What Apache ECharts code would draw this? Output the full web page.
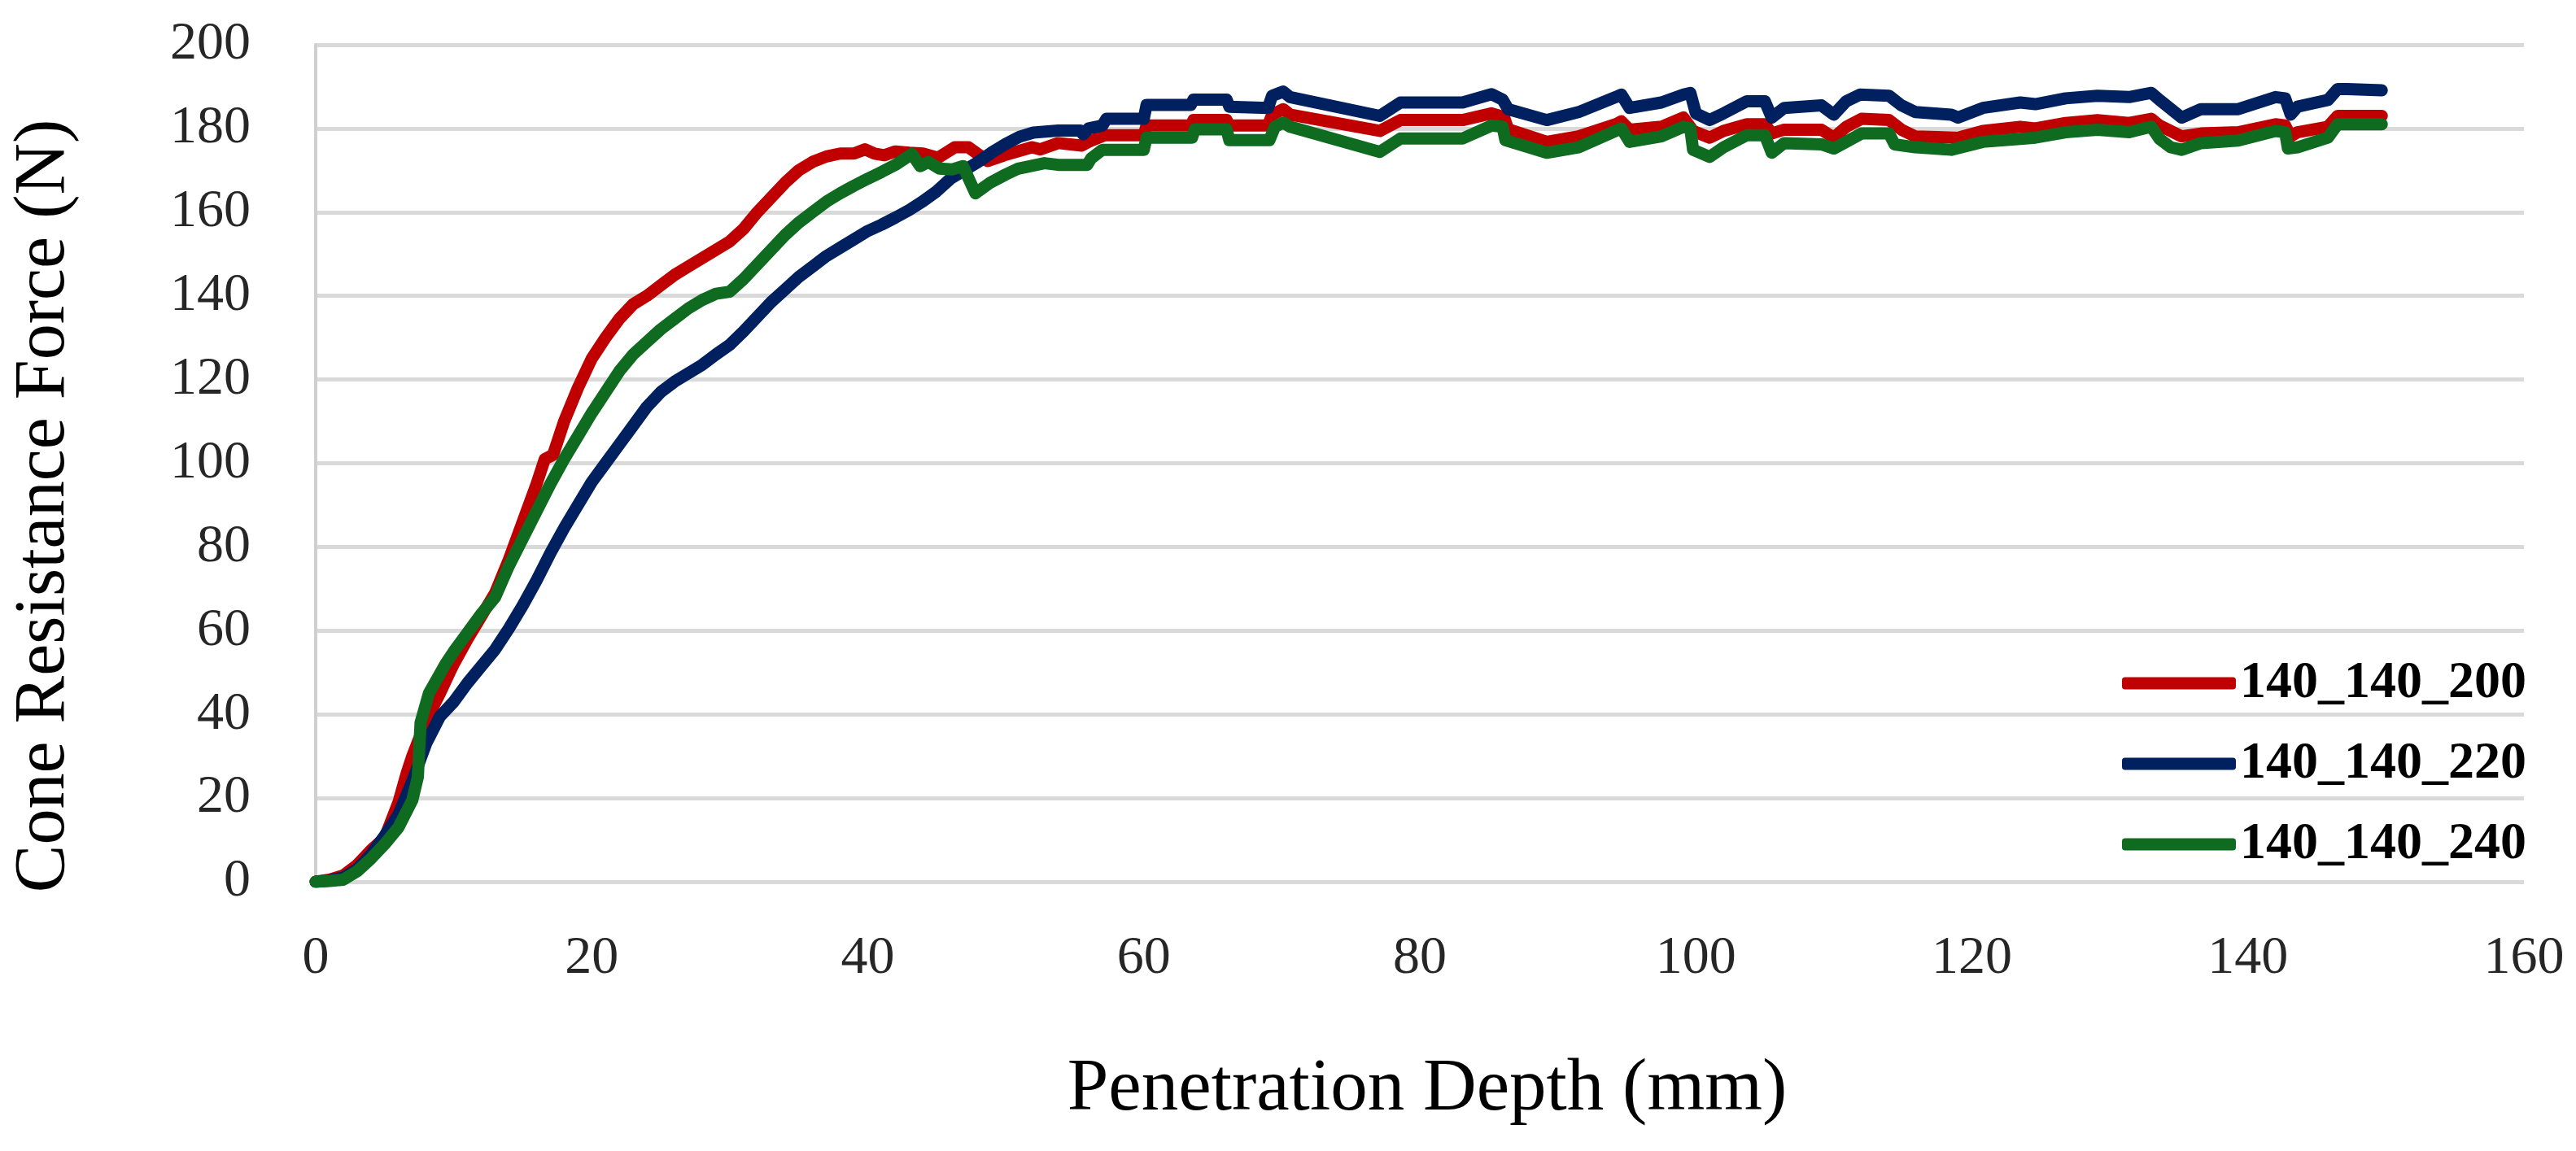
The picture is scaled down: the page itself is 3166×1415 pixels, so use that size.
<!DOCTYPE html>
<html>
<head>
<meta charset="utf-8">
<script src="https://cdn.jsdelivr.net/npm/echarts@6/dist/echarts.min.js"></script>
<style>
html,body{margin:0;padding:0;background:#fff;}
#chart{width:3166px;height:1415px;}
</style>
</head>
<body>
<div id="chart"></div>
<script>
var seriesNames = ['140_140_200', '140_140_220', '140_140_240'];
var xTicks = [0, 20, 40, 60, 80, 100, 120, 140, 160];
var yTicks = [0, 20, 40, 60, 80, 100, 120, 140, 160, 180, 200];

var red200 = [[0,0],[1,0.5],[2,1.5],[3,4],[4,7.5],[5,10.5],[6,19],[6.6,26],[7,30],[8,38.5],[9,45],[9.7,50],[10,52],[11,58],[12,63.5],[13,69],[14,77],[15,86],[16,95],[16.6,101],[17.2,102],[18,110],[19,118],[20,125],[21,130],[22,134.5],[23,138],[24,140],[25,142.5],[26,145],[27,147],[28,149],[29,151],[30,153],[31,156],[32,160],[33,163.5],[34,167],[35,170],[36,172],[37,173.3],[38,174],[39,174],[39.8,175],[40.5,174],[41.2,173.6],[42,174.5],[43,174.2],[44,174],[45.1,173],[46.3,175.5],[47.3,175.5],[48.7,172.2],[49.9,173.6],[51.9,175.5],[52.5,175],[53.8,176.5],[55.5,175.9],[56,176.8],[57.2,178.4],[60,178.4],[60.2,180.7],[63.4,180.7],[63.6,182],[66,182],[66.2,180.7],[69,180.7],[69.3,183.3],[70.1,184.6],[70.6,183.3],[77.1,179.4],[78.6,182],[83.1,182],[85.2,183.6],[86.1,182.7],[86.4,179.8],[89.2,176.8],[91.5,178.1],[94.2,181],[94.6,181.7],[95.2,179.7],[97.5,180.4],[99.1,182.6],[99.8,179.4],[101,177.8],[102,179.4],[103.7,181],[105,181],[105.5,178.8],[106.4,179.7],[109.1,179.7],[110,177.8],[110.9,180.4],[112,182.3],[114,182],[114.9,179.7],[115.9,178.1],[119,177.8],[120.8,179.4],[123.5,180.4],[124.6,180],[126.8,181.3],[129.1,182],[131.4,181.3],[133,182.3],[133.6,180.7],[135.2,178.1],[136.6,178.8],[139.3,179.1],[142,181],[142.7,180.7],[143.1,178.1],[143.6,179.1],[145.8,180.4],[146.5,183],[149.7,183]];

var blue220 = [[0,0],[1,0.3],[2,1],[3,3],[4,6.5],[5,11],[6,16],[7,24],[8,33],[9,39.5],[10,43],[11,47.5],[12,51.5],[13,55.5],[14,60.5],[15,66],[16,72],[17,78.5],[18,84.5],[19,90],[20,95.5],[21,100],[22,104.5],[23,109],[24,113.5],[25,117],[26,119.5],[27,121.5],[28,123.5],[29,126],[30,128.3],[31,131.5],[32,135],[33,138.5],[34,141.5],[35,144.5],[36,147],[37,149.5],[38,151.5],[39,153.5],[40,155.5],[41,157],[42,158.7],[43,160.5],[44,162.6],[45,165],[46,168],[47,170],[48,172],[49,174.3],[50,176.3],[51,178],[52,179],[53.8,179.5],[55.4,179.5],[55.6,178.6],[56,180],[57,180.7],[57.3,182.3],[60,182.3],[60.2,185.6],[63.4,185.6],[63.6,186.9],[66,186.9],[66.2,185.2],[69,184.9],[69.3,187.8],[70.1,188.8],[70.6,187.5],[77.1,183],[78.6,186.2],[83.1,186.2],[85.2,188.2],[86,186.9],[86.4,184.6],[89.2,182],[91.5,183.9],[94.2,187.5],[94.6,188.1],[95.2,184.9],[97.5,186.2],[99.1,188.1],[99.6,188.5],[100,183.6],[101,182],[102,183.6],[103.7,186.5],[105,186.5],[105.5,182.6],[106.4,184.9],[109.1,185.5],[110,183.3],[110.9,186.5],[111.9,188.1],[114,187.8],[114.9,185.5],[115.9,183.9],[118.5,183.3],[119,182.6],[120.8,184.9],[123.5,186.2],[124.6,185.8],[126.8,187.2],[129.1,187.8],[131.4,187.5],[133,188.5],[133.6,186.8],[135.2,182.6],[136.6,184.6],[139.3,184.6],[142,187.5],[142.7,187.2],[143.1,183.3],[143.6,185.2],[145.8,186.8],[146.5,189.4],[147.2,189.4],[149.7,189.1]];

var green240 = [[0,0],[1,0.2],[2,0.5],[3,2.5],[4,5.5],[5,9],[6,13],[7,19.5],[7.4,25],[7.6,38],[8.2,45],[9.4,52],[10,55],[11,59.5],[12,64],[13,68],[14,75.5],[15,82],[16,88.5],[17,95],[18,101],[19,106.5],[20,112],[21,117],[22,122],[23,126],[24,129],[25,132],[26,134.5],[27,137],[28,139],[29,140.5],[30,141],[31,144],[32,147.5],[33,151],[34,154.5],[35,157.5],[36,160],[37,162.5],[38,164.5],[39,166.3],[40,168],[41,169.6],[42,171.3],[43.2,173.9],[43.8,171],[44.4,172],[45.2,170.4],[46.1,170.2],[46.9,171],[47.8,164.5],[48.9,167.1],[50,169],[50.9,170.4],[52.8,171.7],[53.8,171.3],[55.9,171.3],[56.2,172.9],[57,174.9],[60,174.9],[60.2,177.8],[63.5,177.8],[63.7,179.8],[66,179.8],[66.2,177.2],[69.1,177.2],[69.5,180.4],[70.1,181.4],[70.6,180.4],[77.1,174.4],[78.6,177.6],[83.1,177.6],[85.2,180.7],[86,180.4],[86.2,177.2],[89.2,174.2],[91.5,175.5],[94.2,179.4],[94.6,180],[95.2,176.8],[97.5,178.1],[99.1,180.4],[99.6,180],[99.8,174.9],[101,173.2],[102,175.5],[103.7,178.4],[105,178.4],[105.5,174.2],[106.4,176.5],[109.1,176.2],[110,175.2],[110.9,176.8],[112,178.8],[114,178.8],[114.4,176.2],[115.9,175.5],[118.5,174.9],[120.8,176.8],[123.5,177.5],[124.6,177.8],[126.8,179.1],[129.1,179.7],[131.4,179.1],[133,180.4],[133.6,177.5],[134.4,175.5],[135.2,174.9],[136.6,176.5],[139.3,177.1],[142,179.4],[142.7,179.1],[142.9,175.2],[143.6,175.5],[145.8,177.8],[146.5,181],[149.7,181]];

var seriesData = [red200, blue220, green240];
var colors = ['#C00000', '#002060', '#0F6B1F'];

var chart = echarts.init(document.getElementById('chart'), null, {renderer: 'canvas'});

var tickFont = 'Liberation Serif';
var titleFont = 'Liberation Serif';

var option = {
  animation: false,
  backgroundColor: '#ffffff',
  grid: {left: 388, right: 64, top: 55, bottom: 331, containLabel: false},
  legend: {
    orient: 'vertical',
    right: 56,
    top: 800,
    icon: 'roundRect',
    itemWidth: 140,
    itemHeight: 15,
    itemGap: 29,
    data: seriesNames,
    textStyle: {fontFamily: tickFont, fontWeight: 'bold', fontSize: 64, color: '#000', lineHeight: 70}
  },
  xAxis: {
    type: 'value',
    min: xTicks[0],
    max: xTicks[xTicks.length - 1],
    interval: xTicks[1] - xTicks[0],
    axisLine: {show: false},
    axisTick: {show: false},
    splitLine: {show: false},
    axisLabel: {fontFamily: tickFont, fontSize: 66, color: '#262626', margin: 62}
  },
  yAxis: {
    type: 'value',
    min: yTicks[0],
    max: yTicks[yTicks.length - 1],
    interval: yTicks[1] - yTicks[0],
    axisLine: {show: true, lineStyle: {color: '#CFCFCF', width: 4}},
    axisTick: {show: false},
    splitLine: {show: true, lineStyle: {color: '#D9D9D9', width: 5}},
    axisLabel: {fontFamily: tickFont, fontSize: 66, color: '#262626', margin: 80}
  },
  graphic: [
    {
      type: 'text',
      x: 55,
      y: 622,
      rotation: Math.PI / 2,
      style: {
        text: 'Cone Resistance Force (N)',
        fontFamily: titleFont,
        fontSize: 88,
        fill: '#000',
        textAlign: 'center',
        textVerticalAlign: 'middle'
      }
    },
    {
      type: 'text',
      x: 1754,
      y: 1340,
      style: {
        text: 'Penetration Depth (mm)',
        fontFamily: titleFont,
        fontSize: 91,
        fill: '#000',
        textAlign: 'center',
        textVerticalAlign: 'middle'
      }
    }
  ],
  series: seriesNames.map(function (name, i) {
    return {
      name: name,
      type: 'line',
      data: seriesData[i],
      showSymbol: false,
      symbol: 'none',
      smooth: false,
      color: colors[i],
      lineStyle: {color: colors[i], width: 15, join: 'round', cap: 'round'}
    };
  })
};

chart.setOption(option);
</script>
</body>
</html>
